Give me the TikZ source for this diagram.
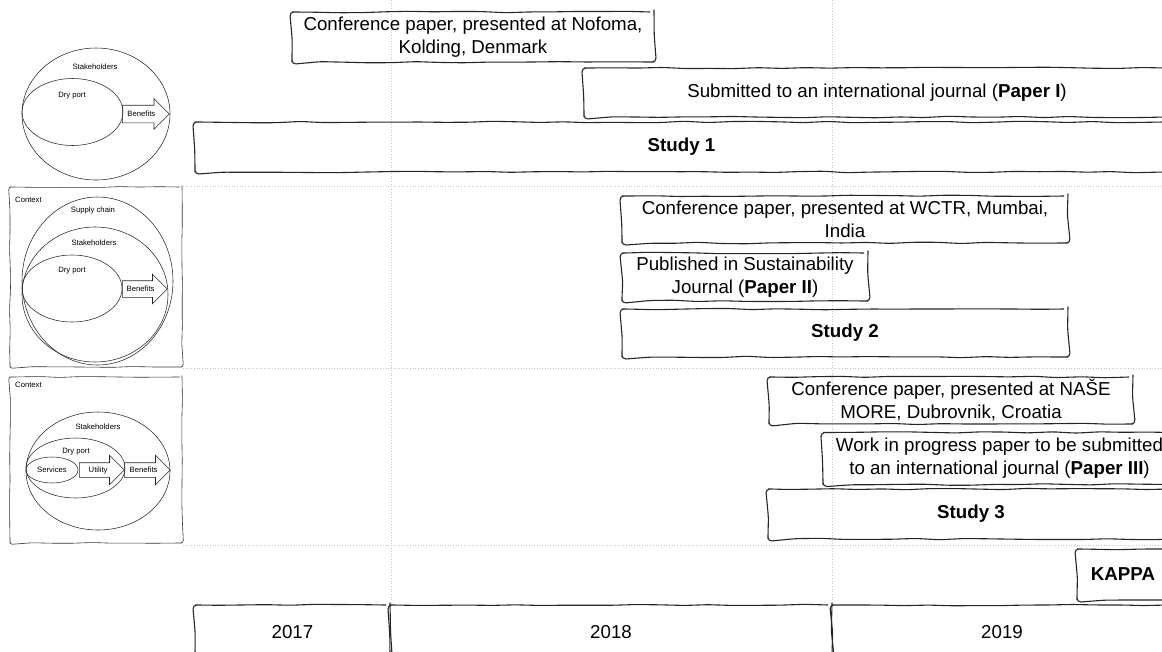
\documentclass[tikz,border=0pt]{standalone}
\usepackage{fontspec}
\setmainfont{Liberation Sans}
\usetikzlibrary{shapes.arrows,shapes.geometric,decorations.pathmorphing}

\newcommand{\bigtext}{\fontsize{18.7}{23}\selectfont}
\newcommand{\smalltext}{\fontsize{7.7}{9}\selectfont}

\tikzset{
  sketch/.style = {decorate, decoration = {random steps, segment length = 24pt, amplitude = 0.8pt}, rounded corners = 4pt},
  paper/.style = {draw, sketch, line width = 1.1pt, black!85, text = black, align = center, inner sep = 0pt, font = \bigtext},
  frame/.style = {draw, decorate, decoration = {random steps, segment length = 20pt, amplitude = 0.5pt}, rounded corners = 2.5pt, line width = 0.6pt, black!80, inner sep = 0pt},
  part/.style = {draw, ellipse, line width = 0.55pt, black!85, inner sep = 0pt},
  benefit/.style = {draw, single arrow, anchor = tail, line width = 0.55pt, black!85, text = black, font = \smalltext, text height = 5.6pt, text depth = 0pt, inner xsep = 1pt},
  lbl/.style = {font = \smalltext, inner sep = 0pt},
  grid line/.style = {black!22, dotted, line width = 0.7pt}
}

\pgfmathsetseed{42}

\begin{document}
\begin{tikzpicture}[x = 1pt, y = -1pt]
      \useasboundingbox (0,0) rectangle (1162,651);

      \path[grid line]
      (183,186) edge (1162,186)
      (183,368) edge (1162,368)
      (183,545) edge (1162,545)
      (391,0) edge (391,605)
      (832,0) edge (832,605);

      % study 1 model
      \node[part, minimum width = 148, minimum height = 132] (stake1) at (96,114) {};
      \node[part, minimum width = 101, minimum height = 67] (port1) at (72.5,112) {};
      \node[benefit, minimum height = 47, inner ysep = 5.7pt, single arrow head extend = 6.5pt] (ben1) at (122,114) {Benefits};
      \node[lbl] at (95,67) {Stakeholders};
      \node[lbl] at (72,96) {Dry port};

      % study 2 model
      \node[frame, minimum width = 172, minimum height = 180] (ctx2) at (96,277) {};
      \node[part, minimum width = 151, minimum height = 168] (chain2) at (97.5,281) {};
      \node[part, minimum width = 146, minimum height = 135] (stake2) at (95,294.5) {};
      \node[part, minimum width = 100, minimum height = 67] (port2) at (72,288.5) {};
      \node[benefit, minimum height = 45, inner ysep = 5.2pt, single arrow head extend = 6.5pt] (ben2) at (122,289) {Benefits};
      \node[lbl, anchor = west] at (15,200) {Context};
      \node[lbl] at (93,211) {Supply chain};
      \node[lbl] at (94,243) {Stakeholders};
      \node[lbl] at (72,271) {Dry port};

      % study 3 model
      \node[frame, minimum width = 172, minimum height = 166] (ctx3) at (96,460) {};
      \node[part, minimum width = 144, minimum height = 118] (stake3) at (98,471) {};
      \node[part, minimum width = 99, minimum height = 60] (port3) at (75.5,468) {};
      \node[part, minimum width = 52, minimum height = 26] (serv3) at (52,470) {};
      \node[benefit, minimum height = 45, inner ysep = 4.2pt, single arrow head extend = 7.5pt] (util3) at (79,470) {Utility};
      \node[benefit, minimum height = 46, inner ysep = 4.2pt, single arrow head extend = 7.5pt] (ben3) at (124,470) {Benefits};
      \node[lbl, anchor = west] at (15,385) {Context};
      \node[lbl] at (98,427) {Stakeholders};
      \node[lbl] at (76,452) {Dry port};
      \node[lbl] at (52,470) {Services};

      % timeline
      \node[paper, minimum width = 362, minimum height = 50] (nofoma) at (473,37)
        {Conference paper, presented at Nofoma,\\Kolding, Denmark};
      \node[paper, minimum width = 586, minimum height = 49] (paper1) at (877,92.5)
        {Submitted to an international journal ({\bfseries Paper I})};
      \node[paper, minimum width = 973, minimum height = 50] (study1) at (681.5,147)
        {\bfseries Study 1};

      \node[paper, minimum width = 446, minimum height = 47] (wctr) at (845,219.5)
        {Conference paper, presented at WCTR, Mumbai,\\India};
      \node[paper, minimum width = 246, minimum height = 48] (paper2) at (745,277)
        {Published in Sustainability\\Journal ({\bfseries Paper II})};
      \node[paper, minimum width = 446, minimum height = 48] (study2) at (845,333)
        {\bfseries Study 2};

      \node[paper, minimum width = 364, minimum height = 47] (nase) at (951,400.5)
        {Conference paper, presented at NAŠE\\MORE, Dubrovnik, Croatia};
      \node[paper, minimum width = 353, minimum height = 52] (paper3) at (999.5,458.5)
        {Work in progress paper to be submitted\\to an international journal ({\bfseries Paper III})};
      \node[paper, minimum width = 406, minimum height = 50] (study3) at (971,514)
        {\bfseries Study 3};

      \node[paper, minimum width = 92, minimum height = 51] (kappa) at (1123,574.5)
        {\bfseries KAPPA};

      \node[paper, minimum width = 195, minimum height = 54] (y2017) at (292.5,632) {2017};
      \node[paper, minimum width = 442, minimum height = 54] (y2018) at (611,632) {2018};
      \node[paper, minimum width = 340, minimum height = 54] (y2019) at (1002,632) {2019};
    \end{tikzpicture}
\end{document}
